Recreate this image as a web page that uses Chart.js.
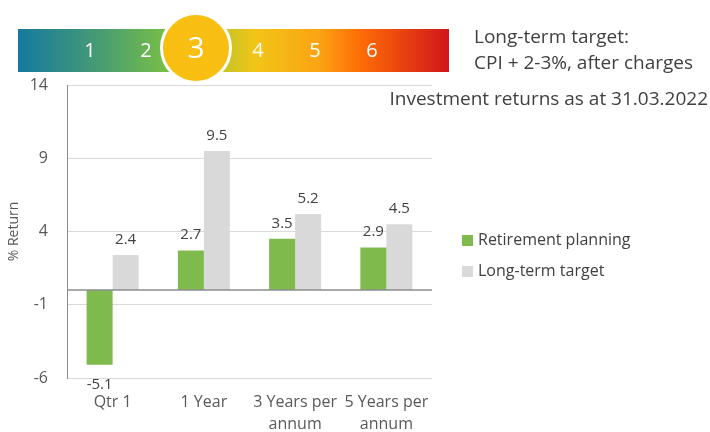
<!DOCTYPE html>
<html>
<head>
<meta charset="utf-8">
<script src="https://cdn.jsdelivr.net/npm/chart.js@4.4.1/dist/chart.umd.min.js"></script>
<style>
  html, body { margin: 0; padding: 0; background: #fff; }
  #wrap { position: relative; width: 710px; height: 432px; overflow: hidden; font-family: "Open Sans", sans-serif; }
  #chart { position: absolute; left: 0; top: 0; }
  .band { position: absolute; left: 18px; top: 29px; width: 431px; height: 43px;
    background: linear-gradient(to right, #16799f 0%, #4a9e70 20%, #7dc242 36%, #f2c517 55%, #fba313 70%, #fd6a06 80%, #d0151b 100%); }
  .num { position: absolute; top: 38px; color: #fff; font-size: 20px; width: 30px; margin-left: -15px; text-align: center; line-height: 24px; }
  .circle { position: absolute; left: 160px; top: 12px; width: 66px; height: 66px; border-radius: 50%;
    border: 3px solid #fff; background: #f8bf12; color: #fff; font-size: 30px; text-align: center; line-height: 64px; }
  .txt { position: absolute; color: #404040; font-size: 19px; white-space: nowrap; line-height: 26px; }
  .leg { position: absolute; left: 462px; color: #404040; font-size: 16px; line-height: 22px; white-space: nowrap; }
  .leg i { display: inline-block; width: 11px; height: 11px; margin-right: 5px; vertical-align: -1px; }
</style>
</head>
<body>
<div id="wrap">
  <canvas id="chart" width="710" height="432"></canvas>
  <div class="band"></div>
  <div class="num" style="left:90px">1</div>
  <div class="num" style="left:146px">2</div>
  <div class="num" style="left:258px">4</div>
  <div class="num" style="left:315px">5</div>
  <div class="num" style="left:372px">6</div>
  <div class="circle">3</div>
  <div class="txt" style="left:474px; top:23px">Long-term target:</div>
  <div class="txt" style="left:474px; top:49px">CPI + 2-3%, after charges</div>
  <div class="txt" style="right:2px; top:85px">Investment returns as at 31.03.2022</div>
  <div class="leg" style="top:228px"><i style="background:#7fba4c"></i>Retirement planning</div>
  <div class="leg" style="top:259px"><i style="background:#d9d9d9"></i>Long-term target</div>
</div>
<script>
var categories = [['Qtr 1'], ['1 Year'], ['3 Years per', 'annum'], ['5 Years per', 'annum']];
var retirementPlanning = [-5.1, 2.7, 3.5, 2.9];
var longTermTarget = [2.4, 9.5, 5.2, 4.5];
var yTicks = [-6, -1, 4, 9, 14];

var barLabels = {
    id: 'barLabels',
    afterDatasetsDraw: (chart) => {
        const ctx = chart.ctx;
        ctx.save();
        ctx.font = '15px "Open Sans"';
        ctx.fillStyle = '#404040';
        ctx.textAlign = 'center';
        chart.data.datasets.forEach((ds, i) => {
            chart.getDatasetMeta(i).data.forEach((bar, j) => {
                const v = ds.data[j];
                if (v < 0) {
                    ctx.textBaseline = 'top';
                    ctx.fillText(v.toFixed(1), bar.x, bar.y + 12);
                } else {
                    ctx.textBaseline = 'bottom';
                    ctx.fillText(v.toFixed(1), bar.x, bar.y - 8);
                }
            });
        });
        ctx.restore();
    }
};

var chart = new Chart(document.getElementById('chart'), {
    type: 'bar',
    data: {
        labels: categories,
        datasets: [
            { label: 'Retirement planning', data: retirementPlanning, backgroundColor: '#7fba4c' },
            { label: 'Long-term target', data: longTermTarget, backgroundColor: '#d9d9d9' }
        ]
    },
    options: {
        animation: false,
        responsive: false,
        categoryPercentage: 0.57,
        barPercentage: 1,
        layout: { padding: { top: 85, right: 278, left: 0, bottom: 0 } },
        plugins: {
            legend: { display: false },
            tooltip: { enabled: false }
        },
        scales: {
            x: {
                grid: { display: false, drawTicks: false },
                border: { display: false },
                ticks: { color: '#595959', font: { family: 'Open Sans', size: 16, lineHeight: 1.4 }, padding: 13, maxRotation: 0, autoSkip: false },
                afterFit: (s) => { s.height = 54; }
            },
            y: {
                min: -6,
                max: 14,
                afterBuildTicks: (s) => { s.ticks = yTicks.map(v => ({ value: v })); },
                grid: {
                    drawTicks: false,
                    color: (c) => c.tick && c.tick.value === 0 ? '#8c8c8c' : '#d9d9d9',
                    lineWidth: (c) => c.tick && c.tick.value === 0 ? 1.5 : 1
                },
                border: { display: true, color: '#8c8c8c', width: 1 },
                ticks: { color: '#595959', font: { family: 'Open Sans', size: 16 }, padding: 19 },
                title: { display: true, text: '% Return', color: '#595959', font: { family: 'Open Sans', size: 14 }, padding: 6 },
                afterFit: (s) => { s.width = 67; }
            }
        }
    },
    plugins: [barLabels, {
        id: 'zeroLine',
        afterDraw: (chart) => {
            const y = chart.scales.y.getPixelForValue(0);
            const ctx = chart.ctx;
            ctx.save();
            ctx.strokeStyle = '#8c8c8c';
            ctx.lineWidth = 1.5;
            ctx.beginPath();
            ctx.moveTo(chart.chartArea.left, y);
            ctx.lineTo(chart.chartArea.right, y);
            ctx.stroke();
            ctx.restore();
        }
    }]
});
</script>
</body>
</html>
